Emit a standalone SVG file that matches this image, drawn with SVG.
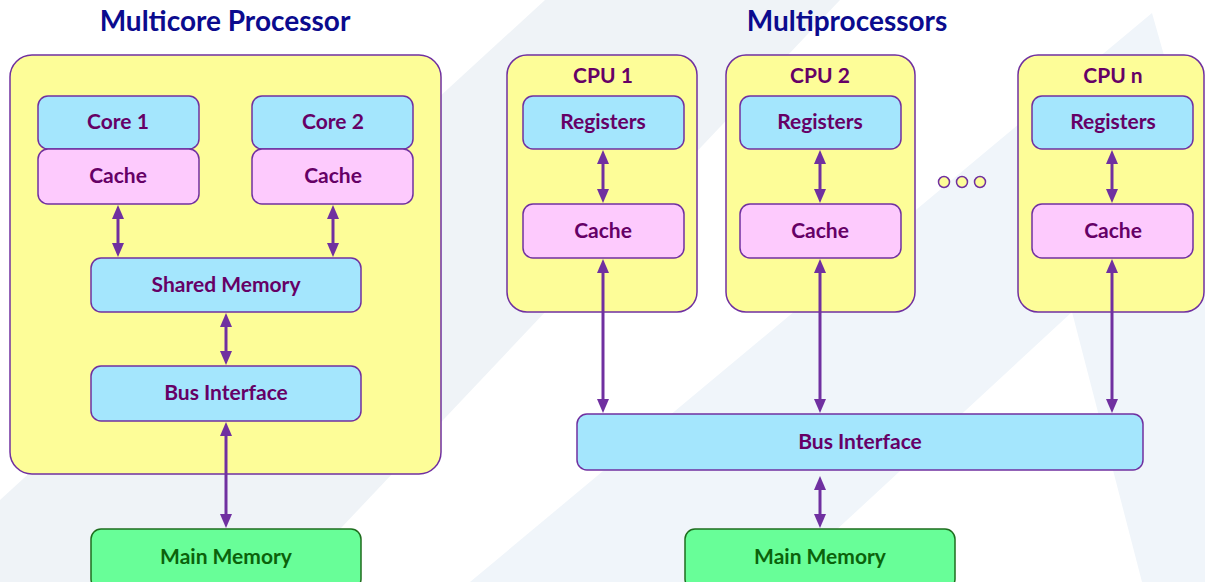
<svg xmlns="http://www.w3.org/2000/svg" width="1205" height="582" viewBox="0 0 1205 582">
  <style>
    .title { font-family: Lato, "Liberation Sans", sans-serif; font-weight: bold; font-size: 28px; fill: #0b0b8e; text-anchor: middle; }
    .lbl { font-family: Lato, "Liberation Sans", sans-serif; font-weight: bold; font-size: 21px; fill: #660066; text-anchor: middle; dominant-baseline: central; transform: translateY(-2px); }
    .mem { fill: #0b620b; }
    .frame { fill: #fdfd98; stroke: #7030a0; stroke-width: 1.5; }
    .blue { fill: #a4e6fd; stroke: #7030a0; stroke-width: 1.5; }
    .pink { fill: #fdcafd; stroke: #7030a0; stroke-width: 1.5; }
    .green { fill: #68fe98; stroke: #1e6e1e; stroke-width: 1.5; }
    .dot { fill: #fdfd98; stroke: #7030a0; stroke-width: 1.5; }
    .link { stroke: #7030a0; stroke-width: 3; fill: none; marker-start: url(#head); marker-end: url(#head); }
  </style>
  <defs>
    <marker id="head" viewBox="0 0 14 12" refX="8" refY="6" markerWidth="14" markerHeight="12" markerUnits="userSpaceOnUse" orient="auto-start-reverse">
      <path d="M0,0 L14,6 L0,12 z" fill="#7030a0"/>
    </marker>
  </defs>

  <!-- faint backdrop shapes -->
  <rect width="1205" height="582" fill="#ffffff"/>
  <g id="backdrop">
    <polygon points="545,0 840,0 290,582 0,582 0,500" fill="#eff3f7"/>
    <path d="M1152,13 L1205,200 L1205,582 L470,582 Z M1072,312 L780,582 L1142,582 Z" fill="#f0f5fa" fill-rule="evenodd"/>
  </g>

  <!-- headings -->
  <text class="title" x="225" y="31">Multicore Processor</text>
  <text class="title" x="847" y="31">Multiprocessors</text>

  <!-- multicore side -->
  <g id="multicore">
    <rect class="frame" x="10" y="55" width="431" height="419" rx="22"/>
  </g>
  <g id="core1">
    <rect class="blue" x="38" y="96" width="161" height="53" rx="10"/>
    <text class="lbl" x="118" y="122">Core 1</text>
  </g>
  <g id="core1-cache">
    <rect class="pink" x="38" y="149" width="161" height="55" rx="10"/>
    <text class="lbl" x="118" y="176">Cache</text>
  </g>
  <g id="core2">
    <rect class="blue" x="252" y="96" width="161" height="53" rx="10"/>
    <text class="lbl" x="333" y="122">Core 2</text>
  </g>
  <g id="core2-cache">
    <rect class="pink" x="252" y="149" width="161" height="55" rx="10"/>
    <text class="lbl" x="333" y="176">Cache</text>
  </g>
  <g id="shared-memory">
    <rect class="blue" x="91" y="258" width="270" height="54" rx="10"/>
    <text class="lbl" x="226" y="285">Shared Memory</text>
  </g>
  <g id="bus-left">
    <rect class="blue" x="91" y="366" width="270" height="55" rx="10"/>
    <text class="lbl" x="226" y="393">Bus Interface</text>
  </g>
  <g id="main-left">
    <rect class="green" x="91" y="529" width="270" height="60" rx="10"/>
    <text class="lbl mem" x="226" y="557">Main Memory</text>
  </g>

  <!-- multiprocessor side -->
  <g id="cpu1">
    <rect class="frame" x="507" y="55" width="190" height="257" rx="20"/>
    <text class="lbl" x="603" y="76">CPU 1</text>
  </g>
  <g id="cpu1-registers">
    <rect class="blue" x="523" y="96" width="161" height="53" rx="10"/>
    <text class="lbl" x="603" y="122">Registers</text>
  </g>
  <g id="cpu1-cache">
    <rect class="pink" x="523" y="204" width="161" height="54" rx="10"/>
    <text class="lbl" x="603" y="231">Cache</text>
  </g>

  <g id="cpu2">
    <rect class="frame" x="726" y="55" width="189" height="257" rx="20"/>
    <text class="lbl" x="820" y="76">CPU 2</text>
  </g>
  <g id="cpu2-registers">
    <rect class="blue" x="740" y="96" width="161" height="53" rx="10"/>
    <text class="lbl" x="820" y="122">Registers</text>
  </g>
  <g id="cpu2-cache">
    <rect class="pink" x="740" y="204" width="161" height="54" rx="10"/>
    <text class="lbl" x="820" y="231">Cache</text>
  </g>

  <g id="ellipsis">
    <circle class="dot" cx="944" cy="182" r="5.5"/>
    <circle class="dot" cx="962" cy="182" r="5.5"/>
    <circle class="dot" cx="980" cy="182" r="5.5"/>
  </g>

  <g id="cpun">
    <rect class="frame" x="1018" y="55" width="186" height="257" rx="20"/>
    <text class="lbl" x="1113" y="76">CPU n</text>
  </g>
  <g id="cpun-registers">
    <rect class="blue" x="1032" y="96" width="161" height="53" rx="10"/>
    <text class="lbl" x="1113" y="122">Registers</text>
  </g>
  <g id="cpun-cache">
    <rect class="pink" x="1032" y="204" width="161" height="54" rx="10"/>
    <text class="lbl" x="1113" y="231">Cache</text>
  </g>

  <g id="bus-right">
    <rect class="blue" x="577" y="414" width="566" height="56" rx="10"/>
    <text class="lbl" x="860" y="442">Bus Interface</text>
  </g>
  <g id="main-right">
    <rect class="green" x="685" y="529" width="270" height="60" rx="10"/>
    <text class="lbl mem" x="820" y="557">Main Memory</text>
  </g>

  <!-- two-way links -->
  <g id="connectors">
    <line class="link" x1="118" y1="211" x2="118" y2="251"/>
    <line class="link" x1="333" y1="211" x2="333" y2="251"/>
    <line class="link" x1="226" y1="319" x2="226" y2="359"/>
    <line class="link" x1="226" y1="428" x2="226" y2="522"/>
    <line class="link" x1="603" y1="156" x2="603" y2="197"/>
    <line class="link" x1="820" y1="156" x2="820" y2="197"/>
    <line class="link" x1="1112" y1="156" x2="1112" y2="197"/>
    <line class="link" x1="603" y1="265" x2="603" y2="407"/>
    <line class="link" x1="820" y1="265" x2="820" y2="407"/>
    <line class="link" x1="1112" y1="265" x2="1112" y2="407"/>
    <line class="link" x1="820" y1="482" x2="820" y2="522"/>
  </g>
</svg>
